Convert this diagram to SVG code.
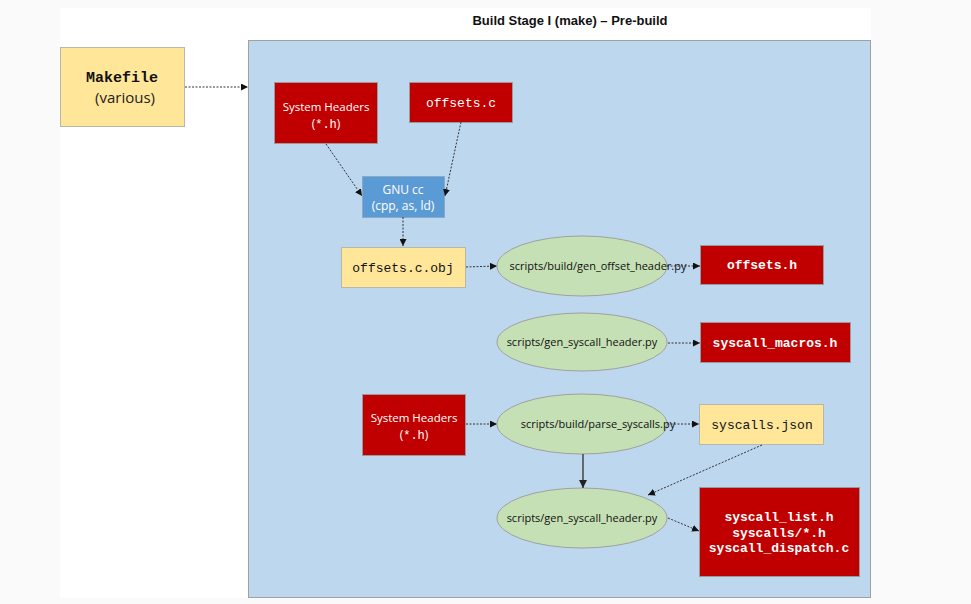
<svg xmlns="http://www.w3.org/2000/svg" width="971" height="604" viewBox="0 0 971 604">
<style>
.red{fill:#c00000;stroke:#9a9a9a;stroke-width:1}
.yel{fill:#ffe699;stroke:#b8b8a8;stroke-width:1}
.blu{fill:#5b9bd5;stroke:#8aa8c8;stroke-width:1}
.ell{fill:#c5e0b4;stroke:#a0a0a0;stroke-width:1}
.sans{font-family:"Open Sans","Liberation Sans",sans-serif}
.mono{font-family:"Liberation Mono","Courier New",monospace}
.w{fill:#ffffff}
.k{fill:#111111}
.dot{fill:none;stroke:#333;stroke-width:1;stroke-dasharray:2,1.5}
.sol{fill:none;stroke:#444;stroke-width:1.5}
</style>
<defs>
<marker id="ah" viewBox="0 0 10 10" refX="10" refY="5" markerWidth="7" markerHeight="7" orient="auto" markerUnits="userSpaceOnUse">
<path d="M0,0 L10,5 L0,10 z" fill="#111"/>
</marker>
<marker id="ah2" viewBox="0 0 10 10" refX="10" refY="5" markerWidth="8" markerHeight="8" orient="auto" markerUnits="userSpaceOnUse">
<path d="M0,0 L10,5 L0,10 z" fill="#222"/>
</marker>
</defs>
<rect x="0" y="0" width="971" height="604" fill="#fafafa"/>
<rect x="60" y="8" width="811" height="590" fill="#ffffff"/>
<text x="570" y="25" text-anchor="middle" font-family="'Liberation Sans',sans-serif" font-weight="bold" font-size="13" fill="#111">Build Stage I (make) – Pre-build</text>
<g id="stage"><rect x="248.5" y="40.5" width="622" height="557" fill="#bdd7ee" stroke="#a0a0a0"/></g>

<g id="makefile">
<rect class="yel" x="60.5" y="47.5" width="124" height="79"/>
<text class="mono k" x="122" y="82" text-anchor="middle" font-size="15" font-weight="bold">Makefile</text>
<text class="sans" x="125" y="103" text-anchor="middle" font-size="15" fill="#222">(various)</text>
</g>

<g id="sysheaders1">
<rect class="red" x="274.5" y="82.5" width="103" height="61"/>
<text class="sans w" x="326" y="111" text-anchor="middle" font-size="11.5">System Headers</text>
<text class="w" x="326" y="128" text-anchor="middle" font-size="12"><tspan class="sans">(</tspan><tspan class="mono">*.h</tspan><tspan class="sans">)</tspan></text>
</g>

<g id="offsets_c">
<rect class="red" x="409.5" y="82.5" width="103" height="40"/>
<text class="mono w" x="461" y="107" text-anchor="middle" font-size="13">offsets.c</text>
</g>

<g id="gnucc">
<rect class="blu" x="362.5" y="176.5" width="82" height="41"/>
<text class="sans w" x="403" y="194" text-anchor="middle" font-size="12">GNU cc</text>
<text class="sans w" x="403" y="210" text-anchor="middle" font-size="12">(cpp, as, ld)</text>
</g>

<g id="offsets_obj">
<rect class="yel" x="341.5" y="247.5" width="124" height="40"/>
<text class="mono k" x="403" y="272" text-anchor="middle" font-size="13">offsets.c.obj</text>
</g>

<g id="gen_offset">
<ellipse class="ell" cx="582" cy="266" rx="85" ry="30"/>
<text class="sans k" x="598" y="270" text-anchor="middle" font-size="11">scripts/build/gen_offset_header.py</text>
</g>

<g id="offsets_h">
<rect class="red" x="700.5" y="245.5" width="123" height="39"/>
<text class="mono w" x="762" y="269" text-anchor="middle" font-size="13" font-weight="bold">offsets.h</text>
</g>

<g id="gen_syscall1">
<ellipse class="ell" cx="582" cy="342" rx="85" ry="29"/>
<text class="sans k" x="582" y="346" text-anchor="middle" font-size="11">scripts/gen_syscall_header.py</text>
</g>

<g id="syscall_macros">
<rect class="red" x="700.5" y="322.5" width="150" height="40"/>
<text class="mono w" x="775" y="347" text-anchor="middle" font-size="13" font-weight="bold">syscall_macros.h</text>
</g>

<g id="sysheaders2">
<rect class="red" x="362.5" y="394.5" width="103" height="61"/>
<text class="sans w" x="414" y="422" text-anchor="middle" font-size="11.5">System Headers</text>
<text class="w" x="414" y="439" text-anchor="middle" font-size="12"><tspan class="sans">(</tspan><tspan class="mono">*.h</tspan><tspan class="sans">)</tspan></text>
</g>

<g id="parse_syscalls">
<ellipse class="ell" cx="582" cy="424" rx="85" ry="30"/>
<text class="sans k" x="598" y="428" text-anchor="middle" font-size="11">scripts/build/parse_syscalls.py</text>
</g>

<g id="syscalls_json">
<rect class="yel" x="699.5" y="404.5" width="124" height="40"/>
<text class="mono k" x="762" y="429" text-anchor="middle" font-size="13">syscalls.json</text>
</g>

<g id="gen_syscall2">
<ellipse class="ell" cx="582" cy="518" rx="85" ry="30"/>
<text class="sans k" x="582" y="522" text-anchor="middle" font-size="11">scripts/gen_syscall_header.py</text>
</g>

<g id="outputs">
<rect class="red" x="699.5" y="487.5" width="160" height="89"/>
<text class="mono w" x="779" y="521" text-anchor="middle" font-size="13" font-weight="bold">syscall_list.h</text>
<text class="mono w" x="779" y="537" text-anchor="middle" font-size="13" font-weight="bold">syscalls/*.h</text>
<text class="mono w" x="779" y="552" text-anchor="middle" font-size="13" font-weight="bold">syscall_dispatch.c</text>
</g>

<g id="connectors">
<path class="dot" d="M185,87 L248,87" marker-end="url(#ah)"/>
<path class="dot" d="M326,144 L362,196" marker-end="url(#ah)"/>
<path class="dot" d="M461,122 L445,196" marker-end="url(#ah)"/>
<path class="dot" d="M403,217 L403,246" marker-end="url(#ah)"/>
<path class="dot" d="M466,267 L497,266" marker-end="url(#ah)"/>
<path class="dot" d="M667,266 L700,266" marker-end="url(#ah)"/>
<path class="dot" d="M668,343 L700,343" marker-end="url(#ah)"/>
<path class="dot" d="M466,424 L497,424" marker-end="url(#ah)"/>
<path class="dot" d="M667,424 L699,424" marker-end="url(#ah)"/>
<path class="sol" d="M583,454 L583,488" marker-end="url(#ah2)"/>
<path class="dot" d="M762,445 L648,495" marker-end="url(#ah)"/>
<path class="dot" d="M668,518 L699,531" marker-end="url(#ah)"/>
</g>
</svg>
